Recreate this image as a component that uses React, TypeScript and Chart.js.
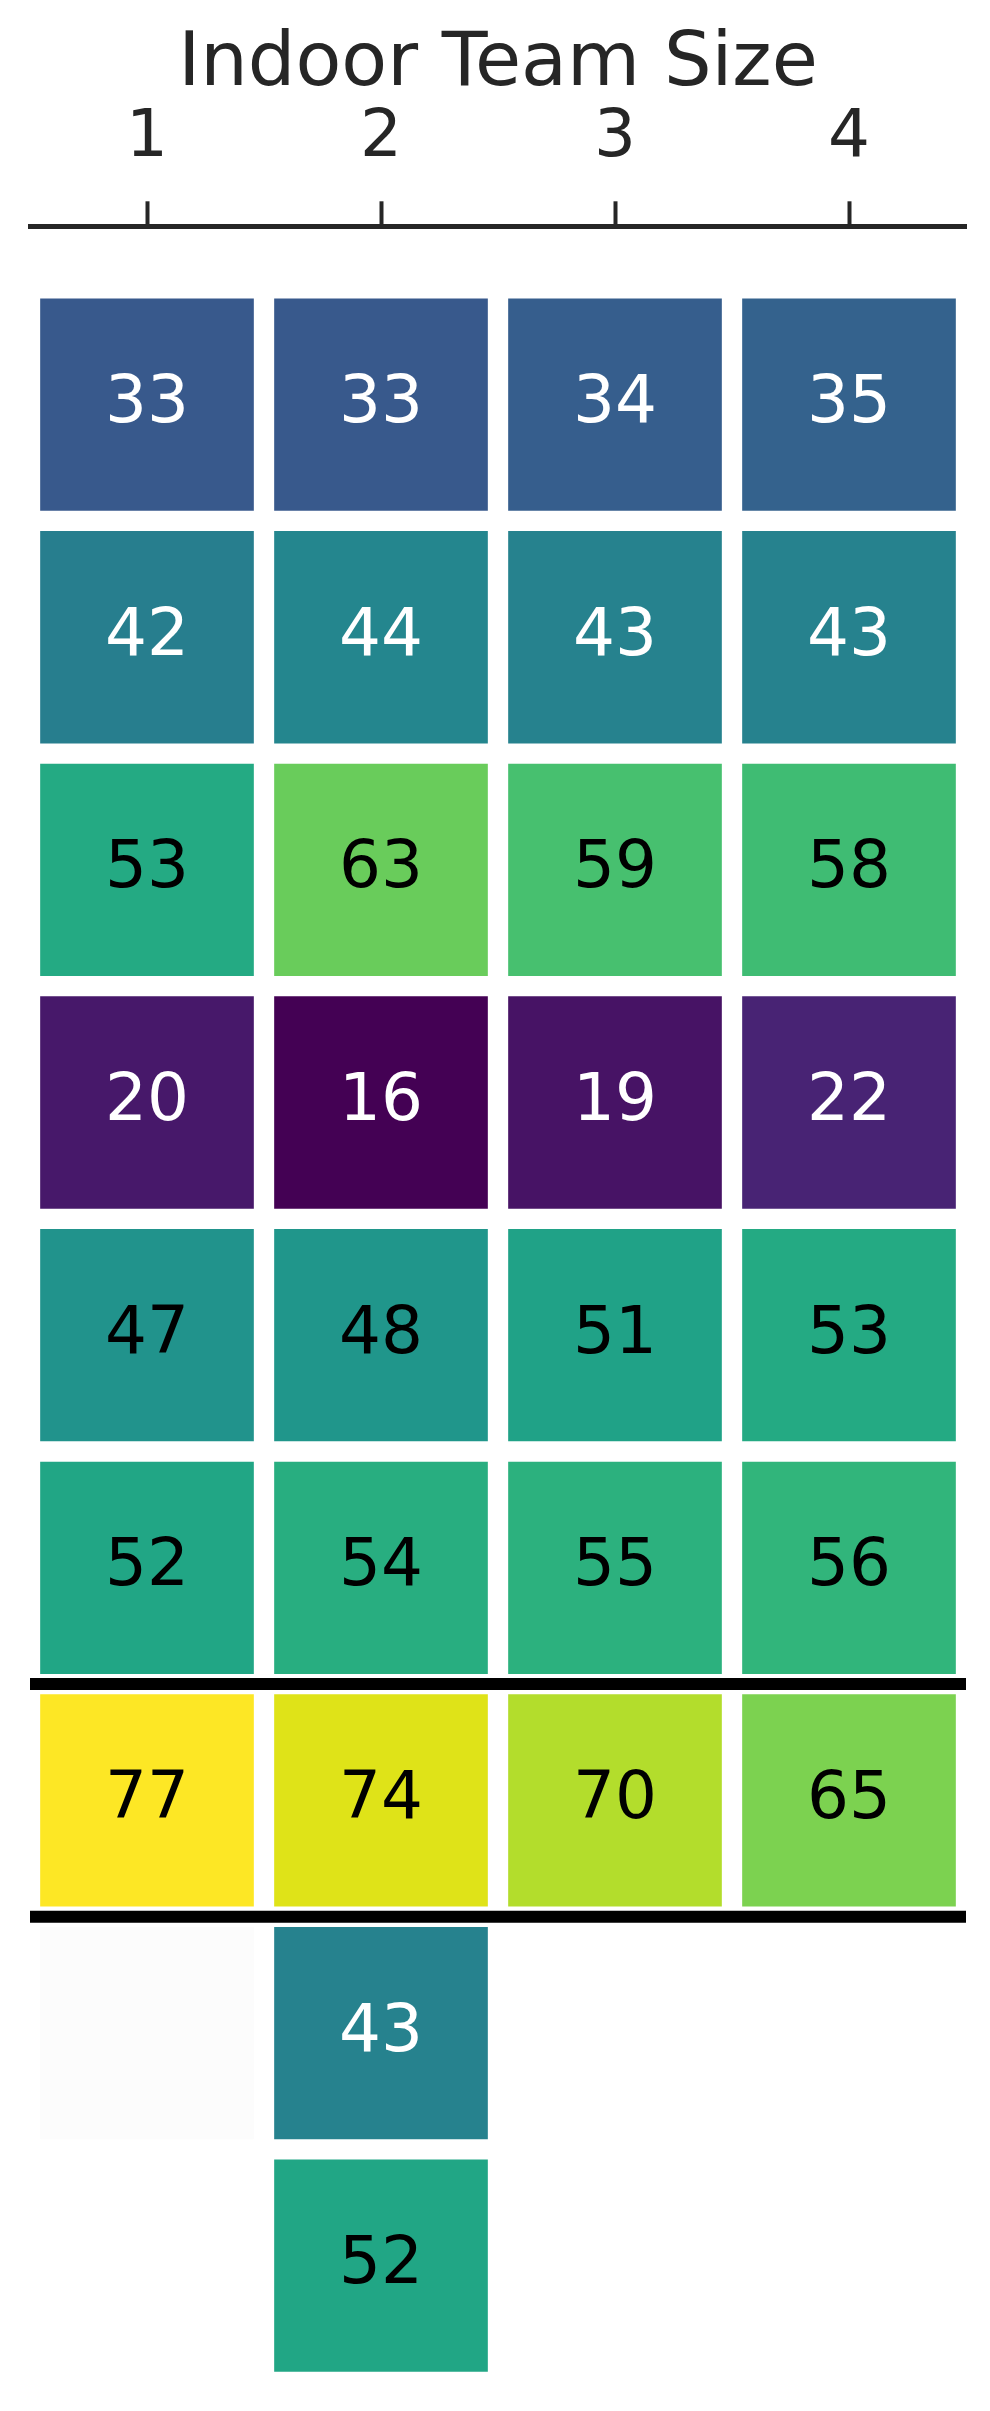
import React, { useEffect, useRef } from 'react';
import { Chart, registerables } from 'chart.js';

Chart.register(...registerables);

// ---------- data ----------
const chartTitle = 'Indoor Team Size';
const columnLabels = ['1', '2', '3', '4'];
const row1: (number | null)[] = [33, 33, 34, 35];
const row2: (number | null)[] = [42, 44, 43, 43];
const row3: (number | null)[] = [53, 63, 59, 58];
const row4: (number | null)[] = [20, 16, 19, 22];
const row5: (number | null)[] = [47, 48, 51, 53];
const row6: (number | null)[] = [52, 54, 55, 56];
const row7: (number | null)[] = [77, 74, 70, 65];
const row8: (number | null)[] = [null, 43, null, null];
const row9: (number | null)[] = [null, 52, null, null];
const rows = [row1, row2, row3, row4, row5, row6, row7, row8, row9];
// empty cells that are still drawn with a faint fill: [rowIndex, columnIndex]
const faintEmptyCells: [number, number][] = [[7, 0]];
// horizontal separators below these row counts
const separatorRows = [6, 7];
const colorMin = 16;
const colorMax = 77;

// ---------- viridis ----------
const viridisStops = [
  '#440154', '#471365', '#482475', '#463480', '#414487', '#3b528b', '#355f8d',
  '#2f6c8e', '#2a788e', '#25848e', '#21918c', '#1e9c89', '#22a884', '#2fb47c',
  '#44bf70', '#5ec962', '#7ad151', '#9bd93c', '#bddf26', '#dfe318', '#fde725',
];
function hexToRgb(h: string) {
  return [parseInt(h.slice(1, 3), 16), parseInt(h.slice(3, 5), 16), parseInt(h.slice(5, 7), 16)];
}
function viridis(t: number) {
  const c = Math.max(0, Math.min(1, t)) * (viridisStops.length - 1);
  const i = Math.min(Math.floor(c), viridisStops.length - 2);
  const f = c - i;
  const a = hexToRgb(viridisStops[i]);
  const b = hexToRgb(viridisStops[i + 1]);
  const m = a.map((v, k) => Math.round(v + (b[k] - v) * f));
  return `rgb(${m[0]},${m[1]},${m[2]})`;
}
const norm = (v: number) => (v - colorMin) / (colorMax - colorMin);

const FONT = "'DejaVu Sans', 'Liberation Sans', sans-serif";
const CELL_FONT_SIZE = 66;

export default function App() {
  const ref = useRef<HTMLCanvasElement | null>(null);

  useEffect(() => {
    if (!ref.current) return;

    const datasets: any[] = [];
    // faint empty cells
    datasets.push({
      label: 'empty',
      data: columnLabels.map((_, j) => {
        const hit = faintEmptyCells.find(([, c]) => c === j);
        return hit ? [hit[0], hit[0] + 1] : null;
      }),
      backgroundColor: '#fcfcfc',
      borderColor: '#ffffff',
      borderWidth: 10.5,
      borderSkipped: false,
      grouped: false,
      barPercentage: 1,
      categoryPercentage: 1,
      isFaint: true,
    });
    rows.forEach((row, r) => {
      datasets.push({
        label: `row${r + 1}`,
        data: row.map((v) => (v == null ? null : [r, r + 1])),
        values: row,
        backgroundColor: row.map((v) => (v == null ? 'rgba(0,0,0,0)' : viridis(norm(v)))),
        borderColor: '#ffffff',
        borderWidth: 10.5,
        borderSkipped: false,
        grouped: false,
        barPercentage: 1,
        categoryPercentage: 1,
      });
    });

    const overlayPlugin = {
      id: 'overlay',
      afterDatasetsDraw(chart: any) {
        const { ctx, chartArea, scales } = chart;
        ctx.save();
        // cell annotations
        ctx.font = `${CELL_FONT_SIZE}px ${FONT}`;
        ctx.textAlign = 'center';
        ctx.textBaseline = 'alphabetic';
        chart.data.datasets.forEach((ds: any, di: number) => {
          if (ds.isFaint) return;
          const meta = chart.getDatasetMeta(di);
          ds.values.forEach((v: number | null, j: number) => {
            if (v == null) return;
            const el = meta.data[j];
            const cy = (el.y + el.base) / 2;
            ctx.fillStyle = norm(v) > 0.5 ? '#000000' : '#ffffff';
            ctx.fillText(String(v), el.x, cy + CELL_FONT_SIZE * 0.265);
          });
        });
        // separator lines
        ctx.strokeStyle = '#000000';
        ctx.lineWidth = 12;
        ctx.lineCap = 'butt';
        separatorRows.forEach((s) => {
          const y = scales.y.getPixelForValue(s);
          ctx.beginPath();
          ctx.moveTo(chartArea.left, y);
          ctx.lineTo(chartArea.right, y);
          ctx.stroke();
        });
        ctx.restore();
      },
    };

    const chart = new Chart(ref.current, {
      type: 'bar',
      data: { labels: columnLabels, datasets },
      options: {
        animation: false,
        responsive: false,
        devicePixelRatio: 1,
        events: [],
        layout: { padding: { left: 30, right: 24, top: 0, bottom: 29 } },
        plugins: {
          legend: { display: false },
          tooltip: { enabled: false },
          title: {
            display: true,
            text: chartTitle,
            color: '#262626',
            font: { family: FONT, size: 75, weight: 'normal', lineHeight: 1 },
            padding: { top: 28.5, bottom: -26.2 },
          },
        },
        scales: {
          x: {
            type: 'category',
            position: 'top',
            offset: true,
            grid: {
              display: true,
              offset: false,
              drawOnChartArea: false,
              drawTicks: true,
              tickLength: 25,
              tickWidth: 4,
              tickColor: '#262626',
              color: '#262626',
            },
            border: { display: true, color: '#262626', width: 5 },
            ticks: {
              color: '#262626',
              font: { family: FONT, size: 66, lineHeight: 1 },
              padding: 29,
              maxRotation: 0,
              autoSkip: false,
            },
          },
          y: {
            type: 'linear',
            display: false,
            reverse: true,
            min: -0.2665,
            max: 9,
          },
        },
      } as any,
      plugins: [overlayPlugin],
    });
    return () => chart.destroy();
  }, []);

  return (
    <div style={{ position: 'absolute', left: 0, top: 0, width: 990, height: 2411, background: '#ffffff' }}>
      <canvas ref={ref} width={990} height={2411} style={{ display: 'block', width: 990, height: 2411 }} />
    </div>
  );
}
